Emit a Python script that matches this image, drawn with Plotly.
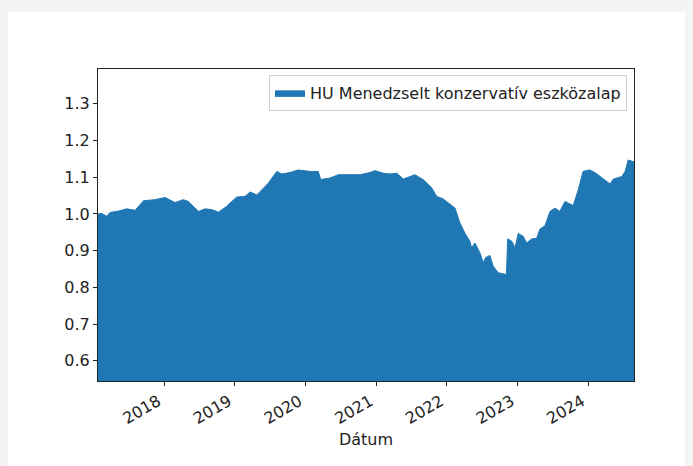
import plotly.graph_objects as go

series_name = "HU Menedzselt konzervatív eszközalap"

dates = [
    "2017-01-24", "2017-02-10", "2017-03-10", "2017-03-27", "2017-05-10", "2017-06-22",
    "2017-08-04", "2017-09-16", "2017-11-15", "2018-01-06", "2018-02-26", "2018-04-10",
    "2018-05-06", "2018-06-27", "2018-07-31", "2018-09-04", "2018-10-08", "2018-11-21",
    "2018-12-08", "2019-01-11", "2019-02-23", "2019-03-21", "2019-04-25", "2019-05-29",
    "2019-06-23", "2019-08-06", "2019-09-01", "2019-10-13", "2019-11-25", "2020-01-24",
    "2020-03-07", "2020-03-20", "2020-04-02", "2020-05-07", "2020-06-19", "2020-08-18",
    "2020-10-09", "2020-11-30", "2020-12-26", "2021-02-07", "2021-03-13", "2021-04-17",
    "2021-05-21", "2021-07-20", "2021-09-02", "2021-10-15", "2021-11-09", "2021-12-13",
    "2022-01-08", "2022-02-12", "2022-03-09", "2022-04-04", "2022-04-30", "2022-05-09",
    "2022-05-26", "2022-06-21", "2022-07-08", "2022-07-20", "2022-08-11", "2022-08-28",
    "2022-09-23", "2022-10-19", "2022-11-05", "2022-11-11", "2022-12-02", "2022-12-19",
    "2023-01-05", "2023-01-31", "2023-02-17", "2023-03-15", "2023-04-10", "2023-04-27",
    "2023-05-23", "2023-06-18", "2023-07-14", "2023-08-08", "2023-09-03", "2023-10-16",
    "2023-11-11", "2023-12-06", "2024-01-10", "2024-02-05", "2024-03-11", "2024-04-23",
    "2024-05-10", "2024-06-23", "2024-07-10", "2024-07-26", "2024-08-25",
]
values = [
    1.000, 1.002, 0.994, 1.004, 1.008, 1.014,
    1.010, 1.036, 1.039, 1.045, 1.031, 1.039,
    1.034, 1.007, 1.014, 1.012, 1.005, 1.021,
    1.030, 1.046, 1.048, 1.060, 1.052, 1.071,
    1.084, 1.116, 1.109, 1.113, 1.120, 1.116,
    1.116, 1.094, 1.095, 1.098, 1.107, 1.107,
    1.107, 1.113, 1.118, 1.111, 1.109, 1.111,
    1.095, 1.107, 1.093, 1.071, 1.048, 1.041,
    1.030, 1.016, 0.976, 0.948, 0.926, 0.908,
    0.921, 0.894, 0.867, 0.881, 0.887, 0.858,
    0.840, 0.838, 0.835, 0.932, 0.926, 0.908,
    0.947, 0.939, 0.921, 0.932, 0.934, 0.959,
    0.968, 1.007, 1.016, 1.007, 1.034, 1.023,
    1.066, 1.116, 1.120, 1.113, 1.098, 1.082,
    1.095, 1.102, 1.116, 1.147, 1.142,
]

y_ticks = [0.6, 0.7, 0.8, 0.9, 1.0, 1.1, 1.2, 1.3]
x_tick_years = ["2018", "2019", "2020", "2021", "2022", "2023", "2024"]
x_title = "Dátum"

# the page places the figure 8px in from the top-left corner
W, H = 685, 458
L, R, T, B = 90, 626, 61, 373
pw, ph = R - L, B - T

blue = "#1f77b4"
ink = "#222222"
grey = "#f4f4f4"
font = dict(family="DejaVu Sans", size=16, color=ink)

fig = go.Figure()
fig.add_trace(go.Scatter(
    x=dates, y=values, name=series_name, mode="lines",
    line=dict(color=blue, width=1), fill="tozeroy", fillcolor=blue,
    showlegend=True,
))

fig.update_layout(
    width=W, height=H,
    margin=dict(l=L, r=W - R, t=T, b=H - B, autoexpand=False),
    paper_bgcolor=grey,
    plot_bgcolor="white",
    font=font,
    showlegend=True,
    legend=dict(
        x=(619 - L) / pw, y=(B - 67) / ph, xanchor="right", yanchor="top",
        bgcolor="rgba(255,255,255,0.8)", bordercolor="#d0d0d0", borderwidth=1,
        font=font, itemwidth=30, tracegroupgap=0,
    ),
    shapes=[dict(
        type="rect", xref="paper", yref="paper", layer="below",
        x0=(0 - L) / pw, x1=(W + 5 - L) / pw,
        y0=(B - (H + 5)) / ph, y1=(B - 4) / ph,
        fillcolor="white", line=dict(width=0),
    )],
)

fig.update_xaxes(
    range=["2017-01-24", "2024-08-25"],
    tickvals=[y + "-01-01" for y in x_tick_years],
    ticktext=x_tick_years,
    tickangle=-30,
    ticklabelshift=-6,
    ticks="outside", ticklen=4, tickcolor=ink,
    showline=True, linecolor=ink, linewidth=1, mirror=True,
    showgrid=False, zeroline=False,
    title=dict(text=x_title, font=font, standoff=6),
    tickfont=font,
)
fig.update_yaxes(
    range=[0.545, 1.395],
    tickvals=y_ticks,
    tickformat=".1f",
    ticks="outside", ticklen=4, tickcolor=ink,
    showline=True, linecolor=ink, linewidth=1, mirror=True,
    showgrid=False, zeroline=False,
    tickfont=font,
)

fig.write_html("out.html", post_script="document.body.style.background='%s';" % grey)
